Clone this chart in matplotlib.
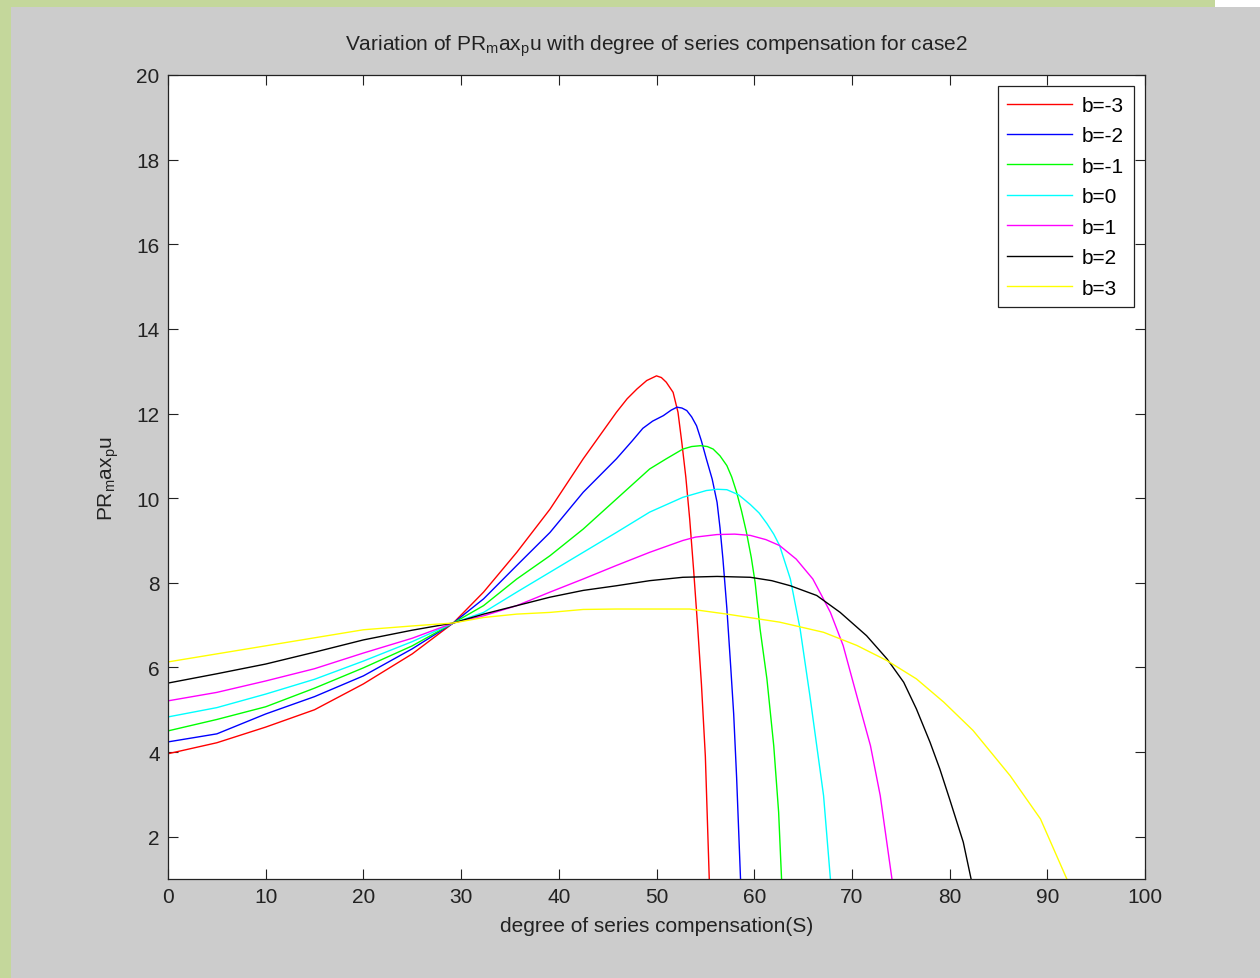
import numpy as np
import matplotlib
matplotlib.use("Agg")
import matplotlib.pyplot as plt
from matplotlib.patches import Rectangle

plt.rcParams['font.family'] = ['Liberation Sans', 'DejaVu Sans']
plt.rcParams['mathtext.fontset'] = 'custom'
plt.rcParams['mathtext.rm'] = 'Liberation Sans'
plt.rcParams['mathtext.it'] = 'Liberation Sans'

# values (x = degree of series compensation, y = PRmaxpu)
labels = ["b=-3", "b=-2", "b=-1", "b=0", "b=1", "b=2", "b=3"]
colors = ["#ff0000", "#0000ff", "#00ff00", "#00ffff", "#ff00ff", "#000000", "#ffff00"]

s_red = [0, 5, 10, 15, 20, 25, 29.2, 32.3, 35.7, 39.1, 42.5, 45.9, 47.0, 48.0, 49.0, 50.0, 50.5, 51.0,
         51.7, 52.2, 52.6, 53.0, 53.4, 53.8, 54.2, 54.6, 55.0, 55.4, 55.5]
p_red = [3.96, 4.22, 4.59, 5.00, 5.61, 6.32, 7.05, 7.78, 8.72, 9.74, 10.93, 12.03, 12.35, 12.58, 12.78, 12.89, 12.85, 12.74,
         12.50, 12.03, 11.30, 10.50, 9.50, 8.30, 7.00, 5.60, 3.90, 1.0, 0.5]

s_blue = [0, 5, 10, 15, 20, 25, 29.2, 32.3, 35.7, 39.1, 42.5, 45.9, 47.5, 48.6, 49.6, 50.7, 51.5, 52.1, 52.6, 53.1,
          53.6, 54.1, 54.6, 55.1, 55.7, 56.2, 56.5, 56.8, 57.2, 57.6, 57.9, 58.2, 58.6, 58.7]
p_blue = [4.24, 4.43, 4.90, 5.31, 5.80, 6.44, 7.05, 7.62, 8.41, 9.19, 10.14, 10.93, 11.35, 11.65, 11.82, 11.95, 12.08, 12.15, 12.13, 12.07,
          11.92, 11.71, 11.35, 10.93, 10.45, 9.90, 9.30, 8.56, 7.40, 6.00, 4.90, 3.40, 1.0, 0.5]

s_green = [0, 5, 10, 15, 20, 25, 29.2, 32.3, 35.7, 39.1, 42.5, 45.9, 49.3, 51.0, 52.7, 53.6, 54.5, 55.2, 55.8,
           56.5, 57.2, 57.7, 58.2, 58.7, 59.2, 59.7, 60.1, 60.6, 61.3, 62.0, 62.5, 62.8, 62.9]
p_green = [4.50, 4.77, 5.07, 5.51, 5.99, 6.51, 7.05, 7.46, 8.09, 8.64, 9.27, 9.98, 10.69, 10.93, 11.16, 11.22, 11.24, 11.22, 11.16,
           11.00, 10.77, 10.50, 10.14, 9.70, 9.20, 8.60, 8.00, 6.91, 5.73, 4.15, 2.58, 1.0, 0.5]

s_cyan = [0, 5, 10, 15, 20, 25, 29.2, 32.3, 35.7, 39.1, 42.5, 45.9, 49.3, 52.7, 55.1, 56.2, 57.2, 58.4, 59.6,
          60.5, 61.3, 62.0, 62.6, 63.7, 64.7, 65.7, 66.4, 67.1, 67.8, 67.9]
p_cyan = [4.83, 5.05, 5.37, 5.72, 6.15, 6.61, 7.05, 7.30, 7.78, 8.25, 8.72, 9.19, 9.67, 10.02, 10.18, 10.21, 10.20, 10.08, 9.85,
          9.65, 9.40, 9.15, 8.88, 8.09, 6.91, 5.33, 4.15, 2.97, 1.0, 0.5]

s_mag = [0, 5, 10, 15, 20, 25, 29.2, 32.3, 35.7, 39.1, 42.5, 45.9, 49.3, 52.7, 54.0, 56.2, 58.0, 59.6, 61.2, 62.6,
         64.3, 66.0, 66.9, 67.8, 69.1, 70.5, 71.9, 72.9, 74.1, 74.2]
p_mag = [5.21, 5.41, 5.68, 5.97, 6.34, 6.69, 7.05, 7.22, 7.46, 7.78, 8.09, 8.41, 8.72, 9.00, 9.08, 9.14, 9.15, 9.12, 9.02, 8.88,
         8.56, 8.09, 7.70, 7.30, 6.52, 5.33, 4.15, 2.97, 1.0, 0.5]

s_black = [0, 5, 10, 15, 20, 25, 29.2, 32.3, 35.7, 39.1, 42.5, 45.9, 49.3, 52.7, 56.2, 59.6, 61.8, 63.7, 66.4, 68.8,
           71.5, 73.6, 75.3, 76.6, 78.0, 79.0, 80.0, 81.4, 82.2, 82.3]
p_black = [5.63, 5.85, 6.08, 6.36, 6.65, 6.88, 7.05, 7.26, 7.46, 7.66, 7.82, 7.93, 8.05, 8.13, 8.15, 8.13, 8.05, 7.93, 7.70, 7.30,
           6.75, 6.20, 5.65, 5.02, 4.23, 3.60, 2.89, 1.87, 1.0, 0.5]

s_yel = [0, 5, 10, 15, 20, 25, 29.2, 32.3, 35.7, 39.1, 42.5, 45.9, 50.0, 53.4, 57.2, 62.6, 67.1, 70.5, 73.6,
         76.6, 79.4, 82.4, 86.2, 89.3, 92.0, 92.2]
p_yel = [6.13, 6.32, 6.51, 6.70, 6.89, 6.98, 7.05, 7.18, 7.26, 7.30, 7.37, 7.38, 7.38, 7.38, 7.26, 7.07, 6.83, 6.52, 6.16,
         5.73, 5.18, 4.51, 3.44, 2.42, 1.0, 0.5]

series_s = [s_red, s_blue, s_green, s_cyan, s_mag, s_black, s_yel]
series_p = [p_red, p_blue, p_green, p_cyan, p_mag, p_black, p_yel]

x_ticks = np.arange(0, 101, 10)
y_ticks = np.arange(2, 21, 2)

fig = plt.figure(figsize=(12.6, 9.79), dpi=100)
fig.patch.set_facecolor("#c4d79b")
# gray window area plus the white notch at the top right
fig.patches.append(Rectangle((11 / 1260, 0), 1, 1 - 8 / 979, transform=fig.transFigure,
                             facecolor="#cccccc", edgecolor="none", zorder=-10))
fig.patches.append(Rectangle((1215 / 1260, 1 - 8 / 979), 1, 1, transform=fig.transFigure,
                             facecolor="#ffffff", edgecolor="none", zorder=-10))

ax = fig.add_axes([168 / 1260, 1 - 880 / 979, 977 / 1260, 804 / 979])
ax.set_facecolor("white")

for s, p, c, lab in zip(series_s, series_p, colors, labels):
    ax.plot(s, p, color=c, lw=1.0, label=lab)

fs = 15
ax.set_xlim(0, 100)
ax.set_ylim(1, 20)
ax.set_xticks(x_ticks)
ax.set_yticks(y_ticks)
ax.tick_params(direction="in", length=7, width=0.8, top=True, right=True,
               labelsize=fs, colors="#222222", pad=6)
for sp in ax.spines.values():
    sp.set_linewidth(0.9)
    sp.set_color("#222222")

ax.set_title("Variation of PR$_{m}$ax$_{p}$u with degree of series compensation for case2",
             fontsize=fs, color="#222222", pad=18)
ax.set_xlabel("degree of series compensation(S)", fontsize=fs, color="#222222", labelpad=7)
ax.set_ylabel("PR$_{m}$ax$_{p}$u", fontsize=fs, color="#222222", labelpad=11)

leg = ax.legend(loc="upper right", fontsize=fs, handlelength=3.1, handletextpad=0.5,
                labelspacing=0.55, borderaxespad=0.55, borderpad=0.45, fancybox=False, framealpha=1)
leg.get_frame().set_edgecolor("#222222")
leg.get_frame().set_linewidth(0.9)

fig.savefig("out.png", dpi=100, facecolor=fig.get_facecolor())
